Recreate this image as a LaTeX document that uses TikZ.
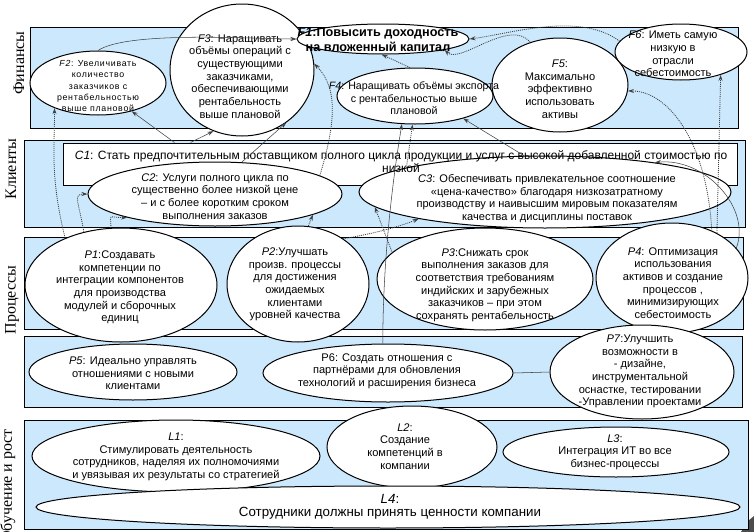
\documentclass[tikz,border=0pt]{standalone}
\usepackage{fontspec}
\setmainfont{Liberation Sans}
\newfontfamily\sidefont{Liberation Serif}
\newfontfamily\widefont[LetterSpace=8]{Liberation Sans}
\usetikzlibrary{shapes.geometric,arrows.meta}
\definecolor{bandblue}{RGB}{204,232,252}
\tikzset{
  band/.style={draw=black, fill=bandblue, line width=0.75pt},
  goal/.style 2 args={ellipse, draw=black, fill=white, line width=0.75pt, inner sep=0pt, minimum width=#1*0.75pt, minimum height=#2*0.75pt},
  txt/.style={align=center, inner sep=0pt, font=\fontsize{8.3}{9.5}\selectfont},
  side/.style={rotate=90, inner sep=0pt, font=\sidefont\fontsize{12}{14}\selectfont},
  plain/.style={draw=black!75, line width=0.4pt},
  link/.style={plain, -{Stealth[length=4.5pt,width=3pt]}},
  dlink/.style={link, line width=0.6pt, dash pattern=on 0.75pt off 0.75pt},
}
\begin{document}
\begin{tikzpicture}[x=0.75pt,y=0.75pt,yscale=-1,xscale=1]
	\useasboundingbox (0,0) rectangle (754,532);
	\draw [band] (30,27) rectangle (738,128);
	\draw [band] (24,140) rectangle (745,227);
	\draw [band] (24,237) rectangle (743,329);
	\draw [band] (24,336) rectangle (742,407);
	\fill [black!70] (748,521) -- (754,516) -- (754,532) -- (741,532) -- cycle;
	\draw [band] (24,420) rectangle (748,529);
	\node [side] (finance) at (19,63) {Финансы};
	\node [side] (clients) at (11,169) {Клиенты};
	\node [side] (process) at (12,300) {Процессы};
	\node [side] (growth) at (8,486) {Обучение и рост};
	\node [draw, fill=white, line width=0.75pt, inner sep=0pt, minimum width=674*0.75pt, minimum height=42*0.75pt] (C1) at (400,164) {};
	\node [goal={136}{64}] (F2) at (98,83) {};
	\node [goal={144}{132}] (F3) at (242,70) {};
	\node [goal={172}{30}] (F1) at (383,39) {};
	\node [goal={156}{56}] (F4) at (415,96) {};
	\node [goal={136}{94}] (F5) at (560,85) {};
	\node [goal={132}{56}] (F6) at (681,52) {};
	\node [goal={254}{64}] (C2) at (215,194) {};
	\node [goal={372}{72}] (C3) at (545,192) {};
	\node [goal={192}{114}] (P1) at (121,285) {};
	\node [goal={142}{116}] (P2) at (298,284) {};
	\node [goal={216}{102}] (P3) at (485,279) {};
	\node [goal={152}{110}] (P4) at (672,278) {};
	\node [goal={208}{56}] (P5) at (133,372) {};
	\node [goal={250}{58}] (P6) at (388,373) {};
	\node [goal={184}{94}] (P7) at (642,372) {};
	\node [goal={288}{72}] (L1) at (176,456) {};
	\node [goal={170}{82}] (L2) at (412,447) {};
	\node [goal={226}{50}] (L3) at (616,452) {};
	\node [goal={704}{42}] (L4) at (388,507) {};
	\node [txt, font=\bfseries\fontsize{9.5}{11.25}\selectfont] (tF1) at (378,39.5) {\textit{F1}:Повысить доходность\\на вложенный капитал};
	\node [txt, font=\widefont\fontsize{6.6}{8.6}\selectfont] (tF2) at (98,86) {\textit{F2}: Увеличивать\\количество\\заказчиков с\\рентабельностью\\выше плановой};
	\node [txt] (tF3) at (240,76.5) {\textit{F3}: Наращивать\\объёмы операций с\\существующими\\заказчиками,\\обеспечивающими\\рентабельность\\выше плановой};
	\node [txt, font=\fontsize{8}{9.4}\selectfont] (tF4) at (414,98.5) {\textit{F4}: Наращивать объёмы экспорта\\с рентабельностью выше\\плановой};
	\node [txt] (tF5) at (560,89) {\textit{F5}:\\Максимально\\эффективно\\использовать\\активы};
	\node [txt] (tF6) at (673,54) {\textit{F6}: Иметь самую\\низкую в\\отрасли\\себестоимость};
	\node [txt, font=\fontsize{9}{9.75}\selectfont] (tC1) at (401,161.5) {\textit{C1}: Стать предпочтительным поставщиком полного цикла продукции и услуг с высокой добавленной стоимостью по\\низкой};
	\node [txt] (tC2) at (215,196.5) {\textit{C2}: Услуги полного цикла по\\существенно более низкой цене\\– и с более коротким сроком\\выполнения заказов};
	\node [txt] (tC3) at (547,198.5) {\textit{C3}: Обеспечивать привлекательное соотношение\\«цена-качество» благодаря низкозатратному\\производству и наивысшим мировым показателям\\качества и дисциплины поставок};
	\node [txt] (tP1) at (120,287.5) {\textit{P1}:Создавать\\компетенции по\\интеграции компонентов\\для производства\\модулей и сборочных\\единиц};
	\node [txt] (tP2) at (295,284.5) {\textit{P2}:Улучшать\\произв. процессы\\для достижения\\ожидаемых\\клиентами\\уровней качества};
	\node [txt] (tP3) at (485,285) {\textit{P3}:Снижать срок\\выполнения заказов для\\соответствия требованиям\\индийских и зарубежных\\заказчиков – при этом\\сохранять рентабельность};
	\node [txt] (tP4) at (673,283) {\textit{P4}: Оптимизация\\использования\\активов и создание\\процессов ,\\минимизирующих\\себестоимость};
	\node [txt] (tP5) at (133,373.5) {\textit{P5}: Идеально управлять\\отношениями с новыми\\клиентами};
	\node [txt] (tP6) at (387,371) {P6: Создать отношения с\\партнёрами для обновления\\технологий и расширения бизнеса};
	\node [txt] (tP7) at (640,371.5) {\textit{P7}:Улучшить\\возможности в\\- дизайне,\\инструментальной\\оснастке, тестировании\\-Управлении проектами};
	\node [txt] (tL1) at (176,457) {\textit{L1}:\\Стимулировать деятельность\\сотрудников, наделяя их полномочиями\\и увязывая их результаты со стратегией};
	\node [txt] (tL2) at (405,446.5) {\textit{L2}:\\Создание\\компетенций в\\компании};
	\node [txt] (tL3) at (615,452) {\textit{L3}:\\Интеграция ИТ во все\\бизнес-процессы};
	\node [txt, font=\fontsize{10}{10}\selectfont] (tL4) at (390,506.5) {\textit{L4}:\\Сотрудники должны принять ценности компании};
	\draw [link] (F2.north) .. controls +(30,-20) and +(-40,0) .. (F1.west);
	\draw [dlink] (F4.100) -- (F1.-95);
	\draw [dlink] (F5.125) .. controls +(-20,-25) and +(15,15) .. (F1.-10);
	\draw [dlink] (F6.170) .. controls +(-40,-30) and +(40,-5) .. (F1.east);
	\draw [dlink] (P4.45) -- (F6.-30);
	\draw [dlink] (P4.50) .. controls +(-5,-90) and +(40,0) .. (F5.-5);
	\draw [link] ([xshift=84pt]C1.north west) -- (F2.-40);
	\draw [link] ([xshift=96pt]C1.north west) -- (F3.-115);
	\draw [link] (C2.50) -- (F3.-50);
	\draw [dlink] (C2.10) .. controls +(15,-50) and +(25,25) .. (F3.5);
	\draw [dlink] (C3.170) -- (F4.-95);
	\draw [link] (C3.120) -- (F4.-25);
	\draw [dlink] (P1.140) .. controls +(-15,-60) and +(0,40) .. (F2.-150);
	\draw [dlink] (P1.125) .. controls +(-5,-30) and +(-15,0) .. (C2.west);
	\draw [dlink] (P1.100) .. controls +(0,-15) and +(-20,0) .. (C2.-165);
	\draw [dlink] (P2.80) -- (C2.-12);
	\draw [dlink] (P3.164) -- (C3.-175);
	\draw [dlink] (P2.45) .. controls +(30,-5) and +(-20,8) .. (C3.-168);
	\draw [link] (P4.25) .. controls +(15,-40) and +(50,-5) .. (C3.15);
	\draw [link] (P6.100) .. controls +(0,-80) and +(-10,60) .. (F4.-115);
	\draw [plain] (P6.east) -- (P7.west);
\end{tikzpicture}
\end{document}
